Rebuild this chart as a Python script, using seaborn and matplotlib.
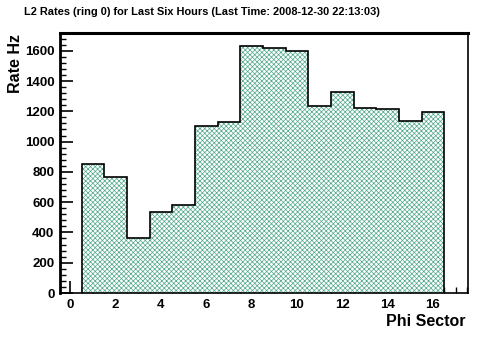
import numpy as np
import pandas as pd
import matplotlib
matplotlib.use('Agg')
import matplotlib.pyplot as plt
from matplotlib.ticker import MultipleLocator
import seaborn as sns

sectors = list(range(1, 17))
rates = [854, 768, 364, 532, 583, 1106, 1126, 1629,
         1616, 1596, 1232, 1325, 1219, 1212, 1134, 1192]

title = 'L2 Rates (ring 0) for Last Six Hours (Last Time: 2008-12-30 22:13:03)'

sns.set_style('ticks')
plt.rcParams['font.family'] = ['Liberation Sans', 'DejaVu Sans']
plt.rcParams['hatch.linewidth'] = 0.5
plt.rcParams['hatch.color'] = '#4fa888'
plt.rcParams['axes.edgecolor'] = 'black'
plt.rcParams['xtick.color'] = 'black'
plt.rcParams['ytick.color'] = 'black'
plt.rcParams['text.color'] = 'black'

df = pd.DataFrame({'sector': sectors, 'rate': rates})

fig = plt.figure(figsize=(4.92, 3.44), dpi=100)
ax = fig.add_axes([60 / 492, 1 - 293 / 344, 408 / 492, 260 / 344])

# hatched fill like the ROOT pattern
sns.histplot(data=df, x='sector', weights='rate', discrete=True,
             element='step', fill=True, ax=ax)
for coll in ax.collections:
    coll.set_facecolor('white')
    coll.set_hatch('xxxxxxx')
    coll.set_edgecolor('#4fa888')
    coll.set_linewidth(0)
for ln in list(ax.lines):
    ln.remove()

# black outline on top, closed down to zero at both ends
edges = np.append(np.array(sectors) - 0.5, sectors[-1] + 0.5)
ax.stairs(rates, edges, color='black', linewidth=1.2, baseline=0)

ax.set_xlim(-0.45, 17.55)
ax.set_ylim(0, 1717)
ax.xaxis.set_major_locator(MultipleLocator(2))
ax.xaxis.set_minor_locator(MultipleLocator(0.5))
ax.yaxis.set_major_locator(MultipleLocator(200))
ax.yaxis.set_minor_locator(MultipleLocator(40))
ax.tick_params(which='major', direction='in', length=9, width=1.2,
               labelsize=9.5, pad=4)
ax.tick_params(which='minor', direction='in', length=4.5, width=1)
ax.tick_params(axis='x', top=False)
ax.tick_params(axis='y', right=False)
for lab in ax.get_xticklabels() + ax.get_yticklabels():
    lab.set_fontweight('bold')

ax.spines['top'].set_linewidth(2.2)
ax.spines['left'].set_linewidth(2)
ax.spines['right'].set_linewidth(1.2)
ax.spines['bottom'].set_linewidth(1.2)

ax.set_xlabel('')
ax.set_ylabel('')
fig.text(465 / 492, 1 - 322 / 344, 'Phi Sector', ha='right', va='center',
         fontsize=11.5, fontweight='bold')
fig.text(16 / 492, 1 - 34 / 344, 'Rate Hz', ha='center', va='top',
         rotation=90, fontsize=11.5, fontweight='bold')
fig.text(24 / 492, 1 - 12 / 344, title, ha='left', va='center',
         fontsize=7.9, fontweight='bold')

fig.savefig('out.png', dpi=100)
